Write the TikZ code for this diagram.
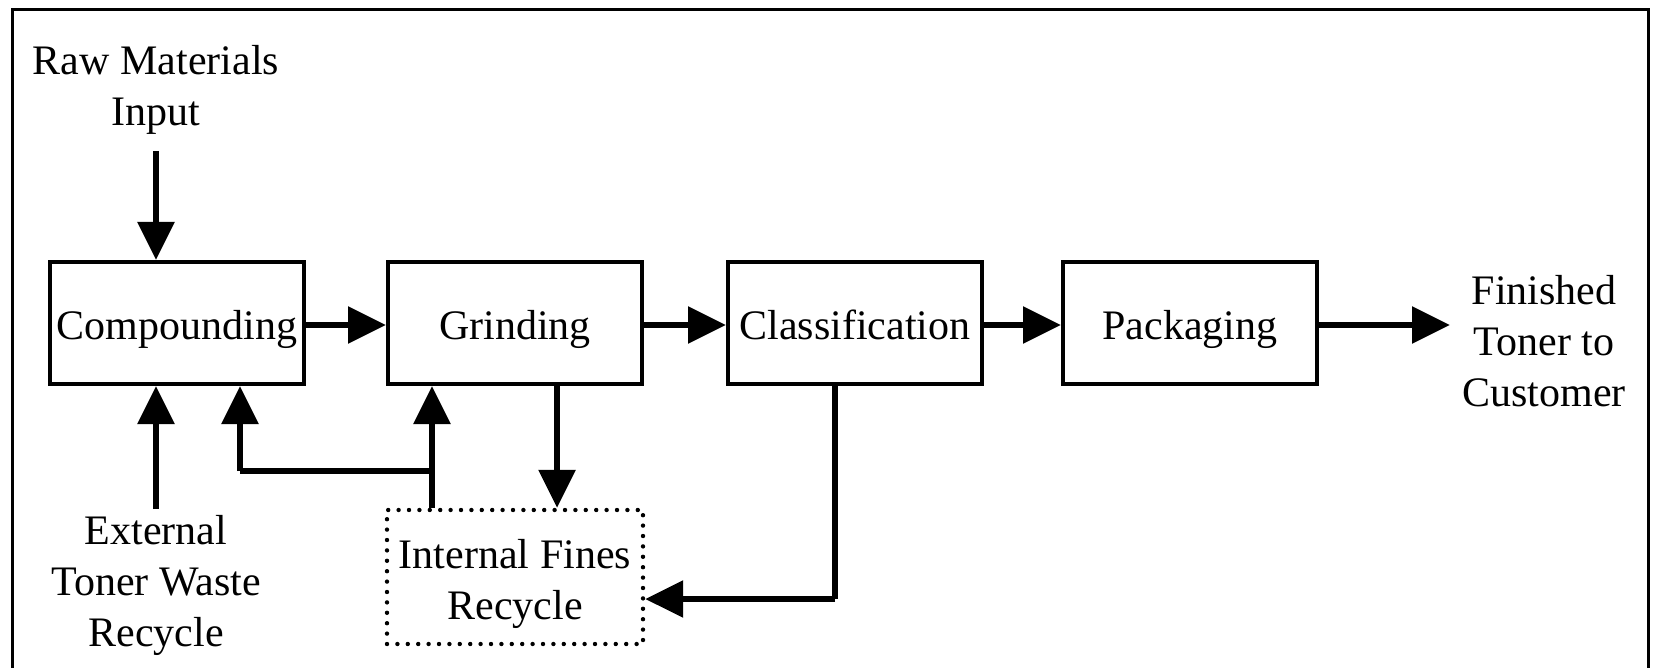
\documentclass[tikz,border=0pt]{standalone}
\usepackage{fontspec}
\setmainfont{Liberation Serif}
\usetikzlibrary{arrows.meta}
\begin{document}
\begin{tikzpicture}[x=1pt,y=-1pt,
  every node/.style={font=\fontsize{42}{51}\selectfont, align=center, inner sep=0pt},
  procbox/.style={draw, line width=4pt, minimum width=254pt, minimum height=122pt,
    text height=32pt, text depth=0pt},
  finesbox/.style={draw, line width=4.4pt, dash pattern=on 0pt off 10.4pt, line cap=round,
    minimum width=256pt, minimum height=134pt},
  arr/.style={line width=6pt, -{Triangle[length=38pt,width=36pt]}},
  feed/.style={line width=5.5pt},
  frameline/.style={line width=3pt}]
  \useasboundingbox (0,0) rectangle (1653,668);
  % outer frame, open at the bottom
  \draw[frameline] (12.5,670) -- (12.5,9.5) -- (1648,9.5) -- (1648,670);

  % process steps
  \node[procbox] (comp) at (177,323) {Compounding};
  \node[procbox] (grind) at (515,323) {Grinding};
  \node[procbox] (class) at (855,323) {Classification};
  \node[procbox] (pack) at (1190,323) {Packaging};
  \node[finesbox] (fines) at (515,577) {};
  \node (finestext) at (515,584) {Internal Fines\\Recycle};

  % inputs and outputs
  \node (raw) at (156,90) {Raw Materials\\Input};
  \node (ext) at (156,585) {External\\Toner Waste\\Recycle};
  \node (fin) at (1544,341) {Finished\\Toner to\\Customer};
  \coordinate (finin) at (1450,325);
  \coordinate (rawout) at (156,151);
  \coordinate (extout) at (156,509);
  \coordinate (split) at (432,471);
  \coordinate (back) at (240,471);
  \coordinate (corner) at (835,599);

  % main flow
  \draw[arr] (rawout) -- (rawout |- comp.north);
  \draw[arr] (comp.east |- 0,325) -- (grind.west |- 0,325);
  \draw[arr] (grind.east |- 0,325) -- (class.west |- 0,325);
  \draw[arr] (class.east |- 0,325) -- (pack.west |- 0,325);
  \draw[arr] (pack.east |- finin) -- (finin);

  % recycle loops
  \draw[arr] (extout) -- (extout |- comp.south);
  \draw[arr] (split |- fines.north) -- (split |- grind.south);
  \draw[feed] (split) -- (back);
  \draw[arr] (back) -- (back |- comp.south);
  \draw[arr] (557,0 |- grind.south) -- (557,0 |- fines.north);
  \draw[feed] (corner |- class.south) -- (corner);
  \draw[arr] (corner) -- (fines.east |- corner);
\end{tikzpicture}
\end{document}
